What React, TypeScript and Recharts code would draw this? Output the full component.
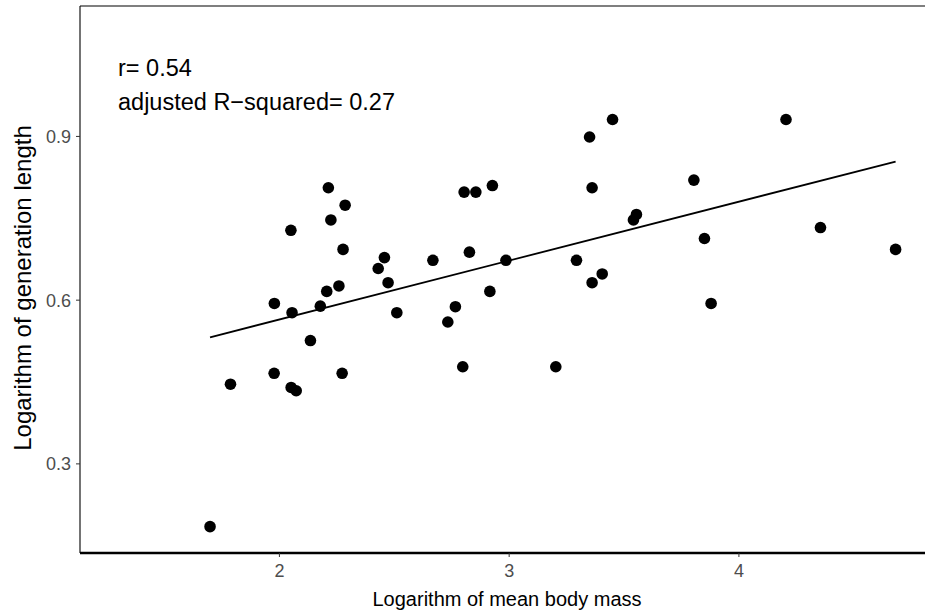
import {
	ScatterChart,
	Scatter,
	XAxis,
	YAxis,
	ReferenceLine,
} from "recharts";

// log mean body mass (x) vs log generation length (y)
const bodyMass = [
	1.698, 1.787, 1.977, 2.051, 2.073, 1.978, 2.055, 2.05, 2.135, 2.178,
	2.206, 2.213, 2.224, 2.259, 2.273, 2.277, 2.286, 2.43, 2.457, 2.473,
	2.511, 2.668, 2.733, 2.766, 2.798, 2.804, 2.855, 2.827, 2.916, 2.927,
	2.986, 3.203, 3.293, 3.35, 3.361, 3.361, 3.405, 3.45, 3.541, 3.554,
	3.804, 3.85, 3.879, 4.205, 4.355, 4.682,
];
const genLength = [
	0.185, 0.446, 0.466, 0.44, 0.434, 0.594, 0.577, 0.728, 0.526, 0.589,
	0.616, 0.806, 0.747, 0.626, 0.466, 0.693, 0.774, 0.658, 0.678, 0.632,
	0.577, 0.673, 0.56, 0.588, 0.478, 0.798, 0.798, 0.688, 0.616, 0.81,
	0.673, 0.478, 0.673, 0.899, 0.806, 0.632, 0.648, 0.931, 0.747, 0.757,
	0.82, 0.713, 0.594, 0.931, 0.733, 0.693,
];

// fitted line ends
const fitX = [1.698, 4.682];
const fitY = [0.532, 0.854];

const xTicks = [2, 3, 4];
const yTicks = [0.3, 0.6, 0.9];
const xDomain = [1.132, 4.81];
const yDomain = [0.1367, 1.139];

const xTitle = "Logarithm of mean body mass";
const yTitle = "Logarithm of generation length";
const annotations = ["r= 0.54", "adjusted R\u2212squared= 0.27"];

const points = bodyMass.map((x, i) => ({ x, y: genLength[i] }));

const FONT = "'Liberation Sans', Arial, Helvetica, sans-serif";
const tickStyle = { fill: "#4D4D4D", fontSize: 18, fontFamily: FONT };

const Dot = (props: any) => (
	<circle cx={props.cx} cy={props.cy} r={5.8} fill="#000" />
);

export default function App() {
	return (
		<div
			style={{
				position: "absolute",
				left: 0,
				top: 0,
				width: 925,
				height: 615,
				background: "#fff",
				fontFamily: FONT,
			}}
		>
			<ScatterChart
				width={925}
				height={615}
				margin={{ top: 6, right: 0, bottom: 0, left: 0 }}
			>
				<XAxis
					type="number"
					dataKey="x"
					domain={xDomain}
					ticks={xTicks}
					allowDataOverflow
					height={62}
					tick={tickStyle}
					tickSize={4}
					tickMargin={7}
					tickLine={{ stroke: "#333", strokeWidth: 1 }}
					axisLine={{ stroke: "#000", strokeWidth: 2.7 }}
					label={{
						content: () => (
							<text
								x={507}
								y={599}
								textAnchor="middle"
								dominantBaseline="central"
								fontSize={20}
								fontFamily={FONT}
								fill="#000"
							>
								{xTitle}
							</text>
						),
					}}
				/>
				<YAxis
					type="number"
					dataKey="y"
					domain={yDomain}
					ticks={yTicks}
					allowDataOverflow
					width={80}
					tick={tickStyle}
					tickSize={4}
					tickMargin={5}
					tickFormatter={(v: number) => v.toFixed(1)}
					tickLine={{ stroke: "#333", strokeWidth: 1 }}
					axisLine={{ stroke: "#000", strokeWidth: 1.1 }}
					label={{
						content: () => (
							<text
								x={22}
								y={288}
								textAnchor="middle"
								dominantBaseline="central"
								transform="rotate(-90, 22, 288)"
								fontSize={24}
								fontFamily={FONT}
								fill="#000"
							>
								{yTitle}
							</text>
						),
					}}
				/>
				<ReferenceLine y={yDomain[1]} stroke="#000" strokeWidth={1.1} />
				<ReferenceLine
					segment={[
						{ x: fitX[0], y: fitY[0] },
						{ x: fitX[1], y: fitY[1] },
					]}
					stroke="#000"
					strokeWidth={1.8}
				/>
				<Scatter data={points} shape={Dot} isAnimationActive={false} />
			</ScatterChart>
			<div
				style={{
					position: "absolute",
					left: 118,
					top: 51,
					fontSize: 23.5,
					lineHeight: "34px",
					color: "#000",
					whiteSpace: "nowrap",
				}}
			>
				{annotations.map((t) => (
					<div key={t}>{t}</div>
				))}
			</div>
		</div>
	);
}
